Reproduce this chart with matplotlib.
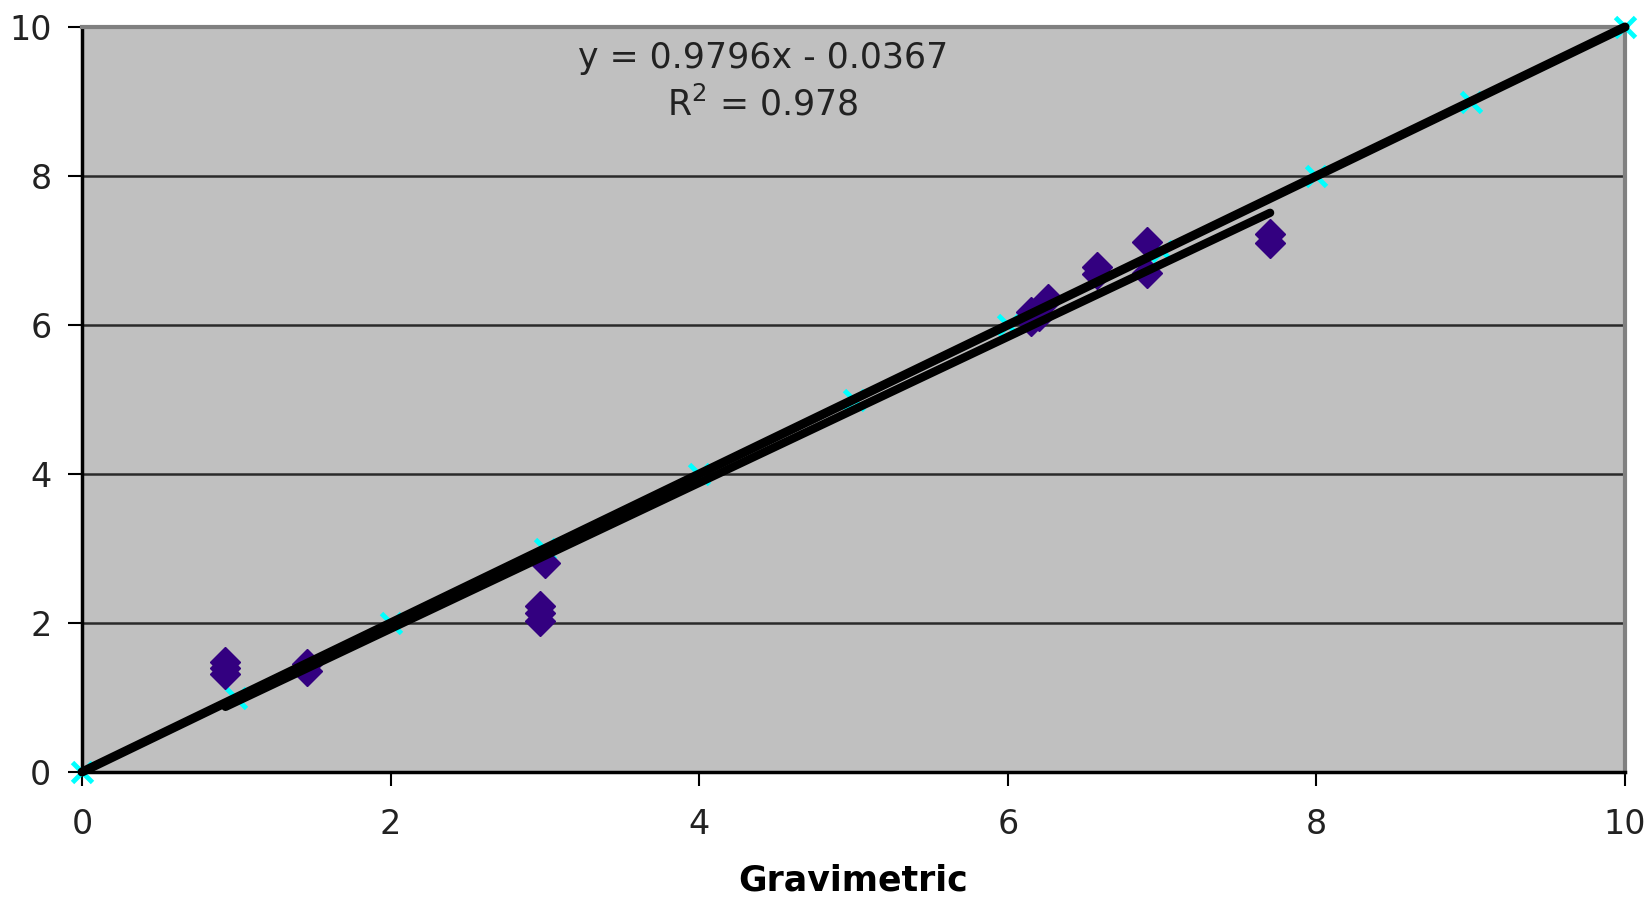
"""Instrumental vs gravimetric scatter with 1:1 reference and linear trendline."""
import matplotlib
matplotlib.use("Agg")
import matplotlib.pyplot as plt
import numpy as np

# 1:1 reference series (cyan crosses)
ref_x = [0, 1, 2, 3, 4, 5, 6, 7, 8, 9, 10]
ref_y = [0, 1, 2, 3, 4, 5, 6, 7, 8, 9, 10]

# measured samples (purple diamonds)
grav = [0.93, 0.93, 0.93, 1.46, 1.46, 2.97, 2.97, 2.97, 3.00,
        6.15, 6.15, 6.20, 6.26, 6.58, 6.58, 6.90, 6.90, 7.70, 7.70]
meas = [1.48, 1.40, 1.32, 1.45, 1.35, 2.23, 2.13, 2.03, 2.80,
        6.18, 6.05, 6.12, 6.35, 6.78, 6.68, 7.11, 6.70, 7.22, 7.10]

# trendline as printed on the chart
slope, intercept = 0.9796, -0.0367
r2 = 0.978

xticks = [0, 2, 4, 6, 8, 10]
yticks = [0, 2, 4, 6, 8, 10]

fig = plt.figure(figsize=(16.5, 9), dpi=100)
ax = fig.add_axes([82 / 1650, 1 - 772 / 900, (1625 - 82) / 1650, (772 - 27) / 900])
ax.set_facecolor("#C0C0C0")

ax.plot(ref_x, ref_y, linestyle="none", marker="x", color="#00FFFF",
        markersize=15, markeredgewidth=3.5, clip_on=False, zorder=3)
ax.plot(grav, meas, linestyle="none", marker="D", color="#330080",
        markersize=15, zorder=4)

# trendlines (black) on top of markers
rx = np.array([min(ref_x), max(ref_x)])
ax.plot(rx, np.polyval(np.polyfit(ref_x, ref_y, 1), rx), color="black",
        lw=6.5, solid_capstyle="round", zorder=5, clip_on=False)
gx = np.array([min(grav), max(grav)])
ax.plot(gx, slope * gx + intercept, color="black", lw=6,
        solid_capstyle="round", zorder=5)

ax.set_xlim(0, 10)
ax.set_ylim(0, 10)
ax.set_xticks(xticks)
ax.set_yticks(yticks)
for y in yticks[1:-1]:
    ax.axhline(y, color="#2a2a2a", lw=1.8, zorder=1)

ax.tick_params(labelsize=24, length=10, width=1.5, colors="black",
               labelcolor="#222222")
ax.tick_params(axis="x", pad=16)
ax.tick_params(axis="y", pad=12)
for s in ("left", "bottom"):
    ax.spines[s].set_color("black")
    ax.spines[s].set_linewidth(2.5)
for s in ("top", "right"):
    ax.spines[s].set_color("#808080")
    ax.spines[s].set_linewidth(3)

ax.set_xlabel("Gravimetric", fontsize=25, fontweight="bold", labelpad=16)

ax.text(763 / 1650, 1 - 58 / 900,
        f"y = {slope}x - {abs(intercept)}", transform=fig.transFigure,
        ha="center", va="center", fontsize=25, color="#222222")
ax.text(763 / 1650, 1 - 104 / 900, f"R$^2$ = {r2}",
        transform=fig.transFigure, ha="center", va="center",
        fontsize=25, color="#222222")

fig.savefig("out.png", dpi=100)
